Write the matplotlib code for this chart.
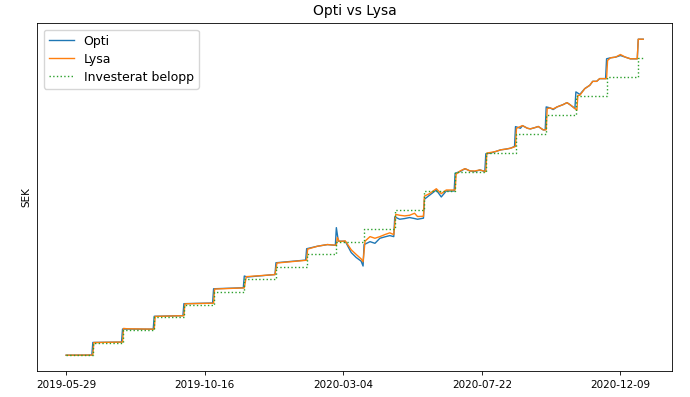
#!/usr/bin/env python3
"""Opti vs Lysa - portfoljvarde mot investerat belopp."""
import matplotlib

matplotlib.use("Agg")
import matplotlib.dates as mdates
import matplotlib.pyplot as plt
import pandas as pd

# insattningar (datum, belopp i SEK)
insattning_datum = [
    "2019-05-29", "2019-06-25", "2019-07-25", "2019-08-26", "2019-09-25",
    "2019-10-25", "2019-11-25", "2019-12-27", "2020-01-27", "2020-02-26",
    "2020-03-25", "2020-04-25", "2020-05-25", "2020-06-25", "2020-07-26",
    "2020-08-25", "2020-09-25", "2020-10-25", "2020-11-25", "2020-12-27",
    "2021-01-01",
]
investerat = [
    1000, 2000, 3000, 4000, 5000, 6000, 7000, 8000, 9000, 10000,
    11000, 12500, 14000, 15500, 17000, 18500, 20000, 21500, 23000, 24500,
    24500,
]

opti_datum = [
    "2019-05-29", "2019-06-24", "2019-06-25", "2019-07-24", "2019-07-25",
    "2019-08-25", "2019-08-26", "2019-09-24", "2019-09-25", "2019-10-24",
    "2019-10-25", "2019-11-24", "2019-11-25", "2019-11-28", "2019-12-26",
    "2019-12-27", "2020-01-26", "2020-01-27", "2020-02-07", "2020-02-17",
    "2020-02-25", "2020-02-26", "2020-02-28", "2020-03-06", "2020-03-12",
    "2020-03-17", "2020-03-22", "2020-03-24", "2020-03-25", "2020-03-31",
    "2020-04-05", "2020-04-10", "2020-04-15", "2020-04-20", "2020-04-24",
    "2020-04-25", "2020-04-30", "2020-05-05", "2020-05-10", "2020-05-15",
    "2020-05-18", "2020-05-24", "2020-05-25", "2020-05-30", "2020-06-06",
    "2020-06-11", "2020-06-16", "2020-06-24", "2020-06-25", "2020-06-30",
    "2020-07-05", "2020-07-10", "2020-07-15", "2020-07-20", "2020-07-25",
    "2020-07-26", "2020-07-31", "2020-08-05", "2020-08-10", "2020-08-15",
    "2020-08-20", "2020-08-24", "2020-08-25", "2020-08-30", "2020-09-01",
    "2020-09-06", "2020-09-09", "2020-09-14", "2020-09-17", "2020-09-22",
    "2020-09-24", "2020-09-25", "2020-09-29", "2020-10-02", "2020-10-06",
    "2020-10-12", "2020-10-16", "2020-10-19", "2020-10-22", "2020-10-24",
    "2020-10-25", "2020-10-29", "2020-11-03", "2020-11-08", "2020-11-11",
    "2020-11-15", "2020-11-18", "2020-11-24", "2020-11-25", "2020-11-29",
    "2020-12-04", "2020-12-09", "2020-12-14", "2020-12-19", "2020-12-26",
    "2020-12-27", "2021-01-01",
]
opti = [
    1000, 1010, 2010, 2040, 3070,
    3060, 4080, 4130, 5080, 5130,
    6260, 6340, 7270, 7190, 7390,
    8320, 8530, 9430, 9630, 9760,
    9700, 11100, 10030, 10020, 9130,
    8740, 8450, 8060, 9760, 9990,
    9860, 10260, 10370, 10470, 10390,
    11950, 11765, 11820, 11900, 11820,
    11765, 11850, 13350, 13660, 14080,
    13530, 14000, 14000, 15400, 15540,
    15770, 15590, 15540, 15670, 15540,
    16950, 17000, 17130, 17260, 17315,
    17390, 17530, 19100, 18970, 19180,
    18970, 18920, 19030, 19110, 18840,
    18850, 20660, 20580, 20450, 20660,
    20840, 21000, 20840, 20660, 20530,
    21850, 21650, 22110, 22370, 22685,
    22685, 22900, 22900, 24470, 24550,
    24600, 24730, 24600, 24470, 24470,
    26020, 26020,
]

lysa_datum = [
    "2019-05-29", "2019-06-25", "2019-06-26", "2019-07-25", "2019-07-26",
    "2019-07-30", "2019-08-26", "2019-08-27", "2019-09-25", "2019-09-26",
    "2019-10-25", "2019-10-26", "2019-11-25", "2019-11-27", "2019-12-26",
    "2019-12-28", "2020-01-27", "2020-01-28", "2020-02-07", "2020-02-17",
    "2020-02-26", "2020-02-27", "2020-02-29", "2020-03-06", "2020-03-12",
    "2020-03-17", "2020-03-22", "2020-03-24", "2020-03-26", "2020-03-31",
    "2020-04-05", "2020-04-10", "2020-04-15", "2020-04-20", "2020-04-24",
    "2020-04-26", "2020-04-30", "2020-05-05", "2020-05-10", "2020-05-15",
    "2020-05-18", "2020-05-24", "2020-05-25", "2020-05-30", "2020-06-06",
    "2020-06-11", "2020-06-16", "2020-06-25", "2020-06-26", "2020-06-30",
    "2020-07-05", "2020-07-10", "2020-07-15", "2020-07-20", "2020-07-26",
    "2020-07-27", "2020-08-05", "2020-08-10", "2020-08-15", "2020-08-20",
    "2020-08-25", "2020-08-26", "2020-09-01", "2020-09-06", "2020-09-09",
    "2020-09-14", "2020-09-17", "2020-09-22", "2020-09-25", "2020-09-26",
    "2020-09-29", "2020-10-02", "2020-10-06", "2020-10-12", "2020-10-16",
    "2020-10-19", "2020-10-22", "2020-10-26", "2020-10-27", "2020-10-29",
    "2020-11-03", "2020-11-08", "2020-11-11", "2020-11-15", "2020-11-18",
    "2020-11-25", "2020-11-26", "2020-11-29", "2020-12-04", "2020-12-09",
    "2020-12-14", "2020-12-19", "2020-12-26", "2020-12-27", "2021-01-01",
]
lysa = [
    1000, 1010, 2000, 2040, 3120,
    3090, 3060, 4070, 4130, 5070,
    5120, 6240, 6330, 7220, 7380,
    8300, 8520, 9400, 9630, 9760,
    9700, 10320, 10000, 10050, 9350,
    8980, 8630, 8400, 10030, 10390,
    10260, 10390, 10550, 10690, 10550,
    12150, 12080, 12030, 12080, 12240,
    11980, 12000, 13600, 13790, 14180,
    13790, 14080, 14080, 15330, 15590,
    15770, 15590, 15590, 15670, 15540,
    17000, 17130, 17260, 17315, 17390,
    17530, 18970, 19180, 18970, 18920,
    19030, 19110, 18840, 18850, 20530,
    20580, 20500, 20660, 20840, 21000,
    20840, 20660, 20400, 21580, 21580,
    22110, 22370, 22685, 22685, 22900,
    22900, 24340, 24550, 24600, 24810,
    24600, 24470, 24470, 26020, 26020,
]

tick_start = "2019-05-29"


def main() -> None:
    fig = plt.figure(figsize=(6.9, 3.97), dpi=100)
    ax = fig.add_axes([0.054, 0.0655, 0.92, 0.8755])

    ax.plot(pd.to_datetime(opti_datum), opti, color="tab:blue", lw=1.0, label="Opti")
    ax.plot(pd.to_datetime(lysa_datum), lysa, color="tab:orange", lw=1.0, label="Lysa")
    ax.plot(pd.to_datetime(insattning_datum), investerat, color="tab:green", lw=1.0,
            linestyle=":", drawstyle="steps-post", label="Investerat belopp")

    ticks = pd.date_range(tick_start, periods=5, freq="140D")
    ax.set_xticks(ticks)
    ax.xaxis.set_major_formatter(mdates.DateFormatter("%Y-%m-%d"))
    ax.tick_params(axis="x", labelsize=7.5, length=3, width=0.6)
    ax.set_yticks([])
    ax.set_ylabel("SEK", fontsize=7.5)
    ax.set_title("Opti vs Lysa", fontsize=10)
    for s in ax.spines.values():
        s.set_linewidth(0.6)
    ax.legend(loc="upper left", fontsize=9, labelspacing=0.4)

    fig.savefig("out.png", dpi=100)


if __name__ == "__main__":
    main()
